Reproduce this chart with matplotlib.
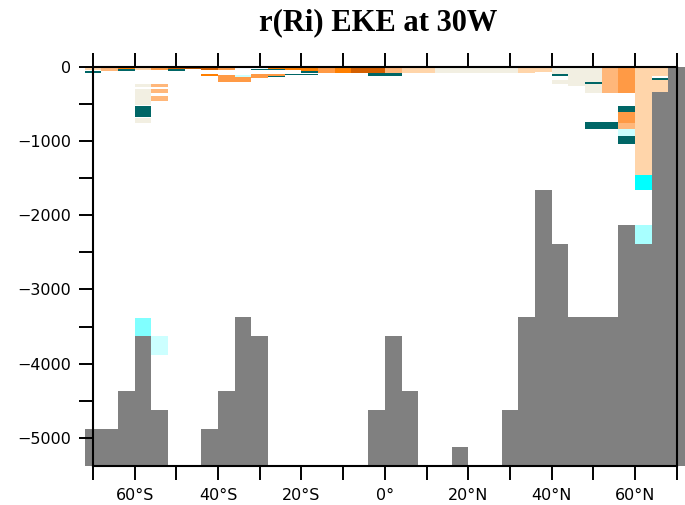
import numpy as np
import matplotlib
matplotlib.use("Agg")
import matplotlib.pyplot as plt

# ---------------------------------------------------------------
# Meridional section of r(Ri) vs EKE along 30W
# grid: 4-degree latitude columns, depth in metres (positive down)
# ---------------------------------------------------------------
lat_west = np.arange(-72, 72, 4)          # west edge of each column
col_width = 4.0
max_depth = 5375.0

# depth of the sea floor in each column (nan = no topography above max_depth)
floor_depth = np.array([
    4875, 4875, 4375, 3625, 4625,            # -72 .. -56
    np.nan, np.nan, 4875, 4375, 3375,        # -52 .. -36
    3625, np.nan, np.nan, np.nan, np.nan,    # -32 .. -16
    np.nan, np.nan, 4625, 3625, 4375,        # -12 .. 4
    np.nan, np.nan, 5125, np.nan, np.nan,    # 8 .. 24
    4625, 3375, 1660, 2390, 3375,            # 28 .. 44
    3375, 3375, 2135, 2390, 340, 0,          # 48 .. 68
], dtype=float)

# discrete colour classes of the correlation field
class_colors = [
    "#006666",  # 0  strong negative
    "#00ffff",  # 1
    "#80ffff",  # 2
    "#a8ffff",  # 3
    "#ccffff",  # 4
    "#ffffff",  # 5  near zero
    "#f2efe2",  # 6
    "#ffd5aa",  # 7
    "#ffb77a",  # 8
    "#ff9a45",  # 9
    "#ff7f00",  # 10
    "#d45f00",  # 11
    "#b35200",  # 12 strong positive
]

# coloured cells: column west edge, top depth, bottom depth, class
cell_lat = [
    -72, -72, -68, -64, -64,
    -60, -60, -60, -60, -60, -60,
    -56, -56, -56, -56, -56,
    -52, -52, -48, -44, -44, -40, -40,
    -36, -36, -32, -32,
    -28, -28, -28, -28, -24, -24, -20, -20, -20,
    -16, -12, -8, -4, -4, 0, 0,
    4, 8, 12, 16, 20, 24, 28, 32, 36,
    40, 40, 40, 44, 48, 48, 48, 48, 52, 52,
    56, 56, 56, 56, 56, 56,
    60, 60, 60, 64, 64, 64,
]
cell_top = [
    0, 55, 0, 0, 35,
    0, 235, 300, 525, 685, 3385,
    0, 235, 300, 395, 3625,
    0, 36, 0, 0, 98, 0, 108,
    108, 138, 25, 105,
    0, 27, 98, 125, 0, 98, 0, 58, 98,
    0, 0, 0, 0, 90, 0, 90,
    0, 0, 0, 0, 0, 0, 0, 0, 0,
    0, 105, 175, 0, 0, 205, 232, 750, 0, 750,
    0, 530, 615, 760, 840, 935,
    0, 1460, 2135, 0, 148, 180,
]
cell_bot = [
    50, 80, 55, 35, 58,
    45, 272, 520, 680, 755, 3625,
    40, 272, 352, 462, 3880,
    36, 58, 36, 40, 122, 40, 205,
    138, 205, 40, 150,
    27, 40, 125, 139, 40, 116, 58, 80, 116,
    90, 90, 90, 85, 120, 85, 120,
    80, 80, 80, 80, 80, 80, 80, 80, 75,
    105, 125, 230, 265, 205, 232, 350, 840, 350, 840,
    350, 615, 760, 840, 935, 1040,
    1460, 1660, 2390, 120, 180, 340,
]
cell_class = [
    7, 0, 8, 10, 0,
    7, 6, 6, 0, 6, 2,
    9, 8, 8, 8, 4,
    11, 0, 12, 11, 10, 9, 9,
    4, 9, 0, 9,
    10, 0, 9, 0, 10, 0, 10, 0, 0,
    9, 10, 11, 11, 0, 8, 0,
    7, 7, 6, 6, 6, 6, 6, 7, 7,
    6, 0, 6, 6, 6, 0, 6, 0, 8, 0,
    9, 0, 9, 8, 4, 0,
    7, 1, 3, 7, 0, 7,
]

x_ticks = np.arange(-70, 71, 10)
y_ticks = np.arange(-5000, 1, 500)


def lat_label(v):
    if v % 20 != 0:
        return ""
    if v == 0:
        return "0°"
    return f"{abs(v)}°{'S' if v < 0 else 'N'}"


def depth_label(v):
    if v % 1000 != 0:
        return ""
    return "0" if v == 0 else f"\u2212{abs(v)}"


W, H = 685, 505
fig = plt.figure(figsize=(W / 100, H / 100), dpi=100)
ax = fig.add_axes([93 / W, 1 - 465.7 / H, (676.7 - 93) / W, (465.7 - 66.7) / H])

# correlation cells
for lw_, top, bot, k in zip(cell_lat, cell_top, cell_bot, cell_class):
    ax.bar(lw_ + col_width / 2, bot - top, width=col_width, bottom=-bot,
           color=class_colors[k], linewidth=0, antialiased=False,
           clip_on=False, zorder=1)

# topography
for lw_, d in zip(lat_west, floor_depth):
    if np.isnan(d):
        continue
    ax.bar(lw_ + col_width / 2, max_depth - d, width=col_width,
           bottom=-max_depth, color="#808080", linewidth=0,
           antialiased=False, clip_on=False, zorder=1.5)

ax.set_xlim(-70, 70)
ax.set_ylim(-max_depth, 0)

tick_font = dict(family="DejaVu Sans", size=11.5)
ax.set_xticks(x_ticks)
ax.set_xticklabels([lat_label(v) for v in x_ticks], fontdict=tick_font)
ax.set_yticks(y_ticks)
ax.set_yticklabels([depth_label(v) for v in y_ticks], fontdict=tick_font)
ax.tick_params(axis="both", direction="out", length=10, width=1.4,
               color="black")
ax.tick_params(axis="x", top=True, bottom=True, pad=6)
ax.tick_params(axis="y", left=True, right=False, pad=6)

for sp in ax.spines.values():
    sp.set_linewidth(1.5)
    sp.set_zorder(3)

fig.text(378 / W, 1 - 30.7 / H, "r(Ri) EKE at 30W", ha="center",
         va="baseline", family="Liberation Serif", weight="bold", size=22)

fig.savefig("out.png", dpi=100)
